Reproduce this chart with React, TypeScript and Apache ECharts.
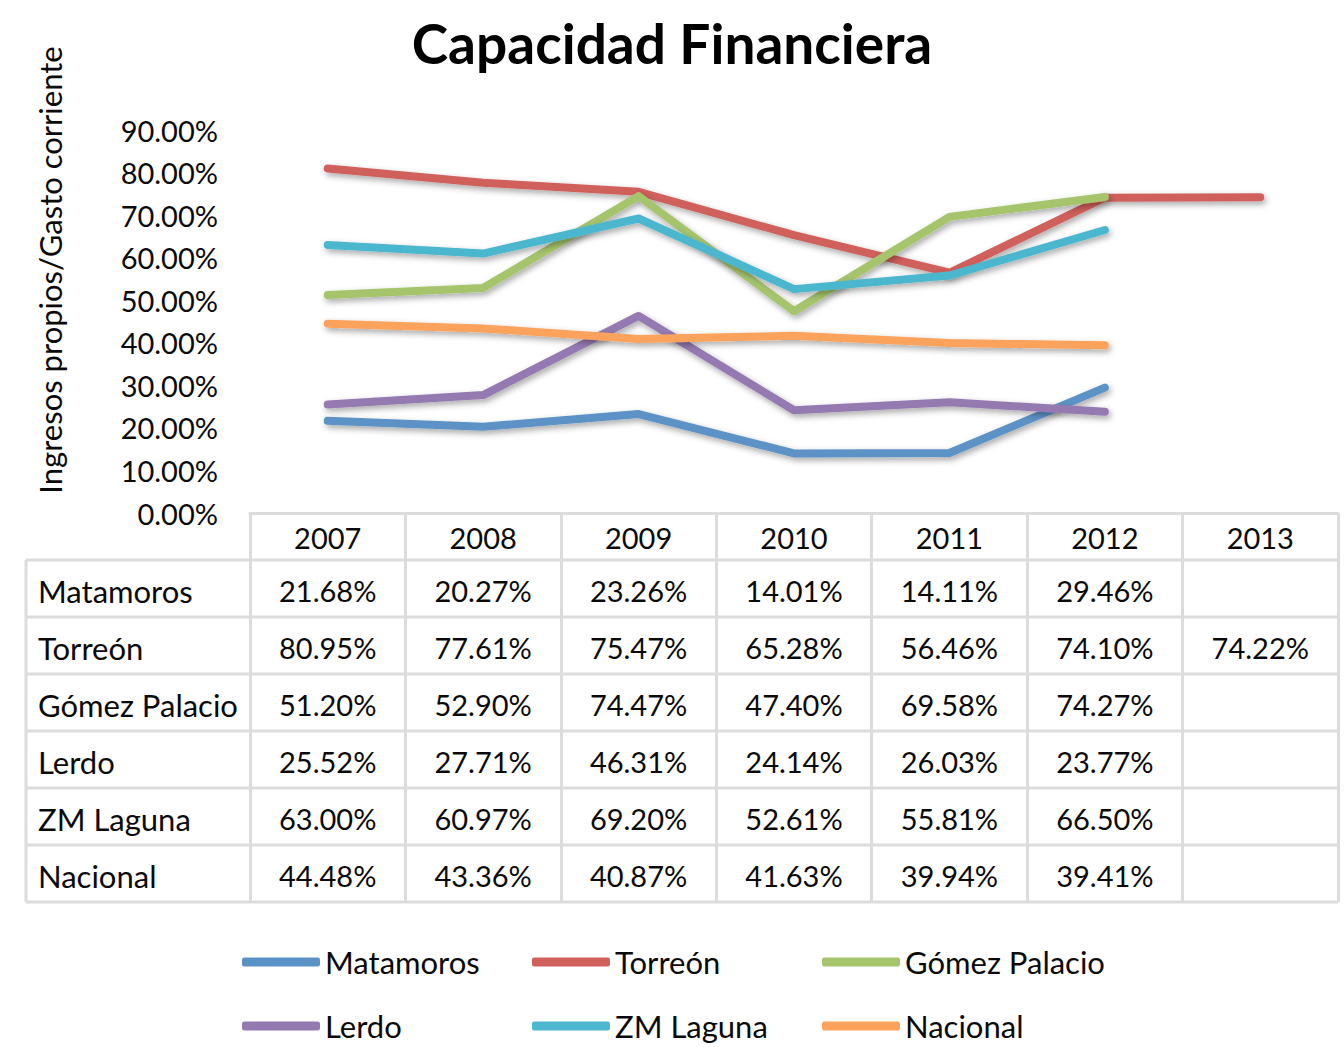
import React, { useEffect, useRef } from "react";
import * as echarts from "echarts";

const years = ["2007", "2008", "2009", "2010", "2011", "2012", "2013"];
const seriesNames = ["Matamoros", "Torreón", "Gómez Palacio", "Lerdo", "ZM Laguna", "Nacional"];
const matamoros = [21.68, 20.27, 23.26, 14.01, 14.11, 29.46, null];
const torreon = [80.95, 77.61, 75.47, 65.28, 56.46, 74.1, 74.22];
const gomezPalacio = [51.2, 52.9, 74.47, 47.4, 69.58, 74.27, null];
const lerdo = [25.52, 27.71, 46.31, 24.14, 26.03, 23.77, null];
const zmLaguna = [63.0, 60.97, 69.2, 52.61, 55.81, 66.5, null];
const nacional = [44.48, 43.36, 40.87, 41.63, 39.94, 39.41, null];
const seriesValues = [matamoros, torreon, gomezPalacio, lerdo, zmLaguna, nacional];
const colors = ["#5B92C6", "#D0605C", "#A5C46C", "#9579B1", "#4CB7CF", "#FBA35C"];

const FONT = "Lato, 'Open Sans', sans-serif";
const TEXT_COLOR = "#0a0a0a";
const W = 1344;
const H = 1047;
const GRID_LEFT = 250;
const GRID_RIGHT_X = 1338;
const AXIS_Y = 513;
const TABLE_LEFT = 26;
const ROW_TOP = 560;
const ROW_H = 57;
const LINE_COLOR = "#DCDCDC";

export default function App() {
  const ref = useRef<HTMLDivElement>(null);
  useEffect(() => {
    document.body.style.margin = "0";
    const chart = echarts.init(ref.current!, null, { renderer: "svg" });
    const legendPos = [
      [242, 945],
      [532, 945],
      [822, 945],
      [242, 1009],
      [532, 1009],
      [822, 1009],
    ];
    const baseOption: any = {
      animation: false,
      backgroundColor: "#ffffff",
      textStyle: { fontFamily: FONT },
      title: {
        text: "Capacidad Financiera",
        left: "center",
        top: 10,
        textStyle: { fontFamily: FONT, fontSize: 55, fontWeight: "bold", color: "#000" },
      },
      grid: { left: GRID_LEFT, right: W - GRID_RIGHT_X, top: 130, bottom: H - AXIS_Y },
      xAxis: {
        type: "category",
        data: years,
        boundaryGap: true,
        axisLine: { show: true, lineStyle: { color: LINE_COLOR, width: 3 } },
        axisTick: { show: true, interval: 0, length: ROW_TOP + ROW_H * 6 - AXIS_Y, lineStyle: { color: LINE_COLOR, width: 3 } },
        axisLabel: { fontSize: 29, color: TEXT_COLOR, margin: 10, fontFamily: FONT, interval: 0 },
      },
      yAxis: {
        type: "value",
        min: 0,
        max: 90,
        interval: 10,
        axisLine: { show: false },
        axisTick: { show: false },
        splitLine: { show: false },
        axisLabel: {
          fontSize: 29,
          color: TEXT_COLOR,
          margin: 32,
          fontFamily: FONT,
          formatter: (v: number) => v.toFixed(2) + "%",
        },
      },
      legend: seriesNames.map((n, i) => ({
        data: [n],
        left: legendPos[i][0],
        top: legendPos[i][1],
        padding: 0,
        icon: "roundRect",
        itemWidth: 78,
        itemHeight: 9,
        itemGap: 0,
        textStyle: { fontSize: 31, color: TEXT_COLOR, fontFamily: FONT, lineHeight: 34 },
        selectedMode: false,
      })),
      series: seriesNames.map((n, i) => ({
        name: n,
        type: "line",
        data: seriesValues[i],
        symbol: "none",
        color: colors[i],
        lineStyle: {
          width: 8,
          color: colors[i],
          cap: "round",
          join: "round",
          shadowColor: "rgba(0,0,0,0.35)",
          shadowBlur: 6,
          shadowOffsetX: 2,
          shadowOffsetY: 3,
        },
        itemStyle: { color: colors[i] },
      })),
    };
    chart.setOption(baseOption);

    const graphics: any[] = [];
    graphics.push({
      type: "text",
      x: 50,
      y: 270,
      rotation: Math.PI / 2,
      style: {
        text: "Ingresos propios/Gasto corriente",
        fontSize: 31,
        fontFamily: FONT,
        fill: TEXT_COLOR,
        align: "center",
        verticalAlign: "middle",
      },
    });
    for (let r = 0; r <= seriesNames.length; r++) {
      const y = ROW_TOP + r * ROW_H;
      graphics.push({
        type: "line",
        shape: { x1: TABLE_LEFT, y1: y, x2: GRID_RIGHT_X, y2: y },
        style: { stroke: LINE_COLOR, lineWidth: 3 },
      });
    }
    graphics.push({
      type: "line",
      shape: { x1: TABLE_LEFT, y1: ROW_TOP, x2: TABLE_LEFT, y2: ROW_TOP + ROW_H * seriesNames.length },
      style: { stroke: LINE_COLOR, lineWidth: 3 },
    });
    seriesNames.forEach((n, r) => {
      const cy = ROW_TOP + r * ROW_H + ROW_H / 2 + 2;
      graphics.push({
        type: "text",
        x: TABLE_LEFT + 12,
        y: cy,
        style: { text: n, fontSize: 31, fontFamily: FONT, fill: TEXT_COLOR, align: "left", verticalAlign: "middle" },
      });
      seriesValues[r].forEach((v, c) => {
        if (v === null || v === undefined) return;
        const cx = chart.convertToPixel({ xAxisIndex: 0 }, years[c]) as number;
        graphics.push({
          type: "text",
          x: cx,
          y: cy,
          style: {
            text: (v as number).toFixed(2) + "%",
            fontSize: 29,
            fontFamily: FONT,
            fill: TEXT_COLOR,
            align: "center",
            verticalAlign: "middle",
          },
        });
      });
    });
    chart.setOption({ graphic: graphics });
    return () => chart.dispose();
  }, []);
  return <div ref={ref} style={{ width: W, height: H, position: "absolute", left: 0, top: 0 }} />;
}
